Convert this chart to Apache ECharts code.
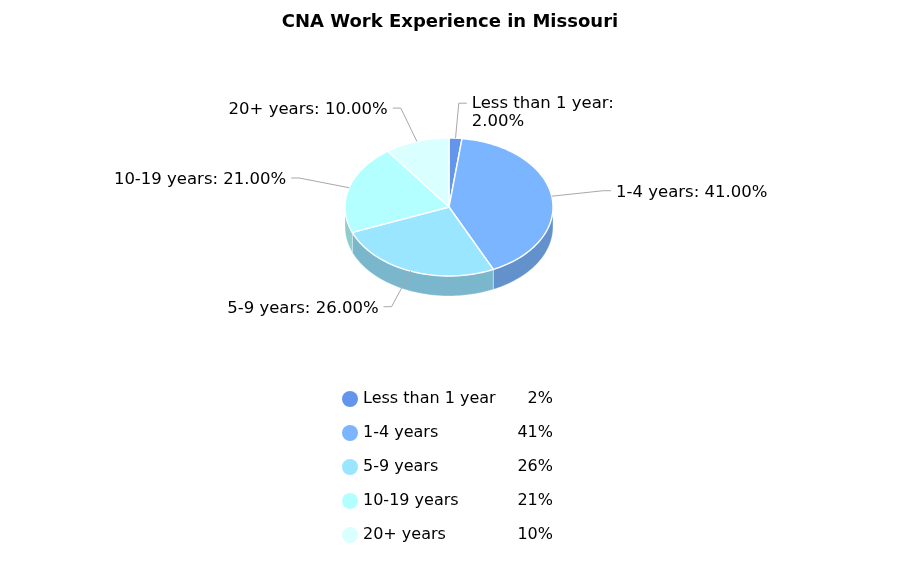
<!DOCTYPE html>
<html>
<head>
<meta charset="utf-8">
<script src="https://cdn.jsdelivr.net/npm/echarts@6/dist/echarts.min.js"></script>
<style>html,body{margin:0;padding:0;background:#fff;}#c{width:900px;height:563px;}</style>
</head>
<body>
<div id="c"></div>
<script>
const categories = ['Less than 1 year', '1-4 years', '5-9 years', '10-19 years', '20+ years'];
const values = [2, 41, 26, 21, 10];
const colors = ['#6495ED', '#7CB5FF', '#9AE5FF', '#B3FFFF', '#D9FFFF'];
const titleText = 'CNA Work Experience in Missouri';

const FONT = '"DejaVu Sans", Verdana, sans-serif';
const geo = { cx: 449, cy: 207, rx: 104, ry: 69, depth: 20 };

function darken(hex, f) {
  const n = parseInt(hex.slice(1), 16);
  const r = Math.round(((n >> 16) & 255) * f), g = Math.round(((n >> 8) & 255) * f), b = Math.round((n & 255) * f);
  return 'rgb(' + r + ',' + g + ',' + b + ')';
}
function pt(a, dy) {
  return [geo.cx + geo.rx * Math.sin(a), geo.cy - geo.ry * Math.cos(a) + (dy || 0)];
}
function arc(a0, a1, dy) {
  const n = Math.max(2, Math.ceil((a1 - a0) / 0.02));
  const out = [];
  for (let k = 0; k <= n; k++) out.push(pt(a0 + (a1 - a0) * k / n, dy));
  return out;
}
const total = values.reduce((s, v) => s + v, 0);

function renderItem(params, api) {
  const i = params.dataIndex;
  const before = values.slice(0, i).reduce((s, v) => s + v, 0);
  const v = api.value(0);
  const a0 = before / total * Math.PI * 2;
  const a1 = (before + v) / total * Math.PI * 2;
  const children = [];
  // top face
  children.push({
    type: 'polygon', z2: 10,
    shape: { points: [[geo.cx, geo.cy]].concat(arc(a0, a1, 0)) },
    style: { fill: colors[i], stroke: '#ffffff', lineWidth: 1.4 }
  });
  // side wall (front half only)
  const s = Math.max(a0, Math.PI / 2), e = Math.min(a1, Math.PI * 1.5);
  if (e > s) {
    const top = arc(s, e, 0);
    const bot = arc(s, e, geo.depth).reverse();
    children.push({
      type: 'polygon', z2: 5,
      shape: { points: top.concat(bot) },
      style: { fill: darken(colors[i], 0.8), stroke: 'rgba(255,255,255,0.6)', lineWidth: 0.6 }
    });
  }
  // label + connector
  const mid = (a0 + a1) / 2;
  const sn = Math.sin(mid), cs = Math.cos(mid);
  const side = sn >= 0 ? 1 : -1;
  const p0 = pt(mid, 0);
  const extra = cs < 0 ? 3 : 0;
  const elbow = [geo.cx + (geo.rx + 52) * sn, geo.cy - (geo.ry + 35) * cs + extra];
  const p2 = [elbow[0] + side * 8, elbow[1]];
  const wrap = Math.abs(sn) < 0.2 && side > 0;
  const txt = categories[i] + ':' + (wrap ? '\n' : ' ') + v.toFixed(2) + '%';
  children.push({
    type: 'polyline', z2: 20,
    shape: { points: [p0, elbow, p2] },
    style: { stroke: '#a8a8a8', lineWidth: 1, fill: null }
  });
  children.push({
    type: 'text', z2: 21,
    style: {
      text: txt, x: p2[0] + side * 5, y: elbow[1] - (wrap ? 8 : 7),
      align: side > 0 ? 'left' : 'right', verticalAlign: 'top',
      font: '16.5px ' + FONT, fill: '#000', lineHeight: 18
    }
  });
  return { type: 'group', children: children };
}

const chart = echarts.init(document.getElementById('c'), null, { renderer: 'canvas' });
chart.setOption({
  animation: false,
  backgroundColor: '#ffffff',
  title: {
    text: titleText, left: 'center', top: 8,
    textStyle: { fontFamily: FONT, fontSize: 18, fontWeight: 'bold', color: '#000' }
  },
  legend: {
    orient: 'vertical', left: 337, top: 386,
    icon: 'circle', itemWidth: 16, itemHeight: 16, itemGap: 18,
    data: categories,
    formatter: function (name) {
      const idx = categories.indexOf(name);
      return '{n|' + name + '}{v|' + values[idx] + '%}';
    },
    textStyle: {
      fontFamily: FONT, fontSize: 16, color: '#000',
      rich: {
        n: { width: 150, fontFamily: FONT, fontSize: 16, color: '#000' },
        v: { width: 40, align: 'right', fontFamily: FONT, fontSize: 16, color: '#000' }
      }
    }
  },
  series: [
    {
      type: 'pie', name: 'legend-source', z: 1,
      center: [geo.cx, geo.cy], radius: [0, 1],
      silent: true, label: { show: false }, labelLine: { show: false },
      data: categories.map((c, i) => ({ name: c, value: values[i], itemStyle: { color: colors[i] } }))
    },
    {
      type: 'custom', name: 'pie3d', z: 2,
      coordinateSystem: 'none',
      renderItem: renderItem,
      data: values.map(v => [v])
    }
  ]
});
</script>
</body>
</html>
